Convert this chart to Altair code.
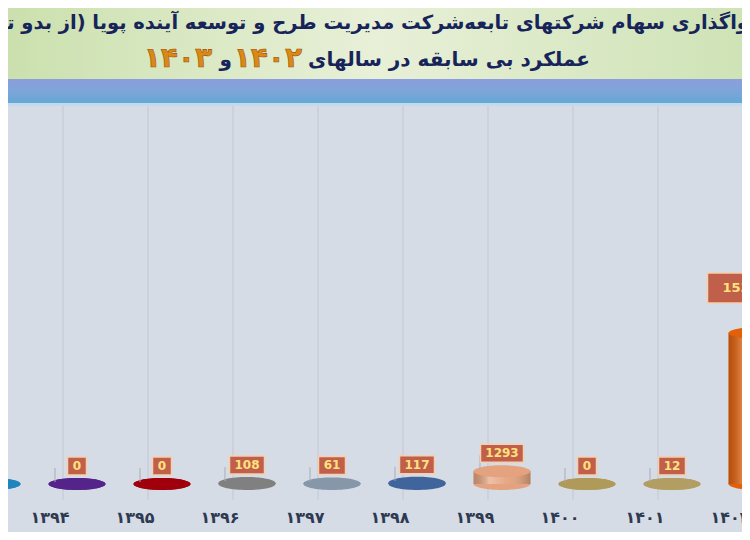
import altair as alt
import pandas as pd

# ---- data ----
years = [1393, 1394, 1395, 1396, 1397, 1398, 1399, 1400, 1401, 1402]
year_labels = ["۱۳۹۳", "۱۳۹۴", "۱۳۹۵", "۱۳۹۶", "۱۳۹۷", "۱۳۹۸", "۱۳۹۹", "۱۴۰۰", "۱۴۰۱", "۱۴۰۲"]
values = [9, 0, 0, 108, 61, 117, 1293, 0, 12, 15350]
top_colors = ["#2a9fd8", "#6b35a8", "#c80a14", "#a0a0a0", "#a3b3c4", "#5679b3",
              "#f3c4a6", "#cbb676", "#cdb87c", "#f07a22"]
side_colors = ["#1f86bd", "#55248a", "#a0000c", "#808080", "#8797aa", "#40649c",
               "#e4a27e", "#b09a5a", "#b29e62", "#e35f08"]

title_line1 = "واگذاری سهام شرکتهای تابعه‌شرکت مدیریت طرح و توسعه آینده پویا (از بدو تاسیس تاکنون)\u200f"
title_line2 = "عملکرد بی سابقه در سالهای"
title_year_a = "۱۴۰۲"
title_and = "و"
title_year_b = "۱۴۰۳"

FONT = "DejaVu Sans"
W, H = 734, 524

df = pd.DataFrame({
    "year": years,
    "cat": [str(y) for y in years],
    "yl": year_labels,
    "value": values,
    "txt": [str(v) for v in values],
})
one = pd.DataFrame({"k": [0]})

cats = [str(y) for y in years]
xs = alt.Scale(domain=[1393, 1402], range=[-21, 754])
ys = alt.Scale(domain=[0, 15350], range=[476, 325])
top_scale = alt.Scale(domain=cats, range=top_colors)
side_scale = alt.Scale(domain=cats, range=side_colors)

ELLIPSE = "M-1,0A1,0.21,0,1,1,1,0A1,0.21,0,1,1,-1,0Z"

base = alt.Chart(df).transform_calculate(base="0")
X = alt.X("year:Q", scale=xs, axis=None)

# ---- background pieces ----
green = alt.Chart(one).mark_rect(
    fill=alt.Gradient(gradient="linear", x1=0, x2=1, y1=0, y2=0,
                      stops=[alt.GradientStop(color="#cbe0ae", offset=0),
                             alt.GradientStop(color="#e8f0d8", offset=0.5),
                             alt.GradientStop(color="#cfe3b6", offset=1)])
).encode(x=alt.value(0), x2=alt.value(W), y=alt.value(0), y2=alt.value(71))

blue = alt.Chart(one).mark_rect(
    fill=alt.Gradient(gradient="linear", x1=0, x2=0, y1=0, y2=1,
                      stops=[alt.GradientStop(color="#8a9fdc", offset=0),
                             alt.GradientStop(color="#7ea5da", offset=0.5),
                             alt.GradientStop(color="#64a8d4", offset=1)])
).encode(x=alt.value(0), x2=alt.value(W), y=alt.value(71), y2=alt.value(95))

light = alt.Chart(one).mark_rect(color="#c3d9ec").encode(
    x=alt.value(0), x2=alt.value(W), y=alt.value(95), y2=alt.value(98))

grid = base.mark_rule(color="#c8ced8", strokeWidth=1.5, xOffset=-14).encode(
    x=X, y=alt.value(98), y2=alt.value(492))

# ---- cylinders ----
bottom_ell = base.mark_point(shape=ELLIPSE, filled=True, size=3249, opacity=1).encode(
    x=X, y=alt.Y("base:Q", scale=ys, axis=None),
    color=alt.Color("cat:N", scale=side_scale, legend=None))

body = base.mark_bar(size=57, opacity=1).encode(
    x=X, y=alt.Y("value:Q", scale=ys, axis=None), y2="base:Q",
    color=alt.Color("cat:N", scale=side_scale, legend=None))

shade = base.mark_bar(
    size=57,
    fill=alt.Gradient(gradient="linear", x1=0, x2=1, y1=0, y2=0,
                      stops=[alt.GradientStop(color="rgba(0,0,0,0.18)", offset=0),
                             alt.GradientStop(color="rgba(255,255,255,0.32)", offset=0.28),
                             alt.GradientStop(color="rgba(255,255,255,0.05)", offset=0.6),
                             alt.GradientStop(color="rgba(0,0,0,0.22)", offset=1)])
).encode(x=X, y=alt.Y("value:Q", scale=ys, axis=None), y2="base:Q")

top_ell = base.mark_point(shape=ELLIPSE, filled=True, size=3249, opacity=1).encode(
    x=X, y=alt.Y("value:Q", scale=ys, axis=None),
    color=alt.Color("cat:N", scale=top_scale, legend=None))

# ---- value labels ----
small = base.transform_filter("datum.value < 5000").transform_calculate(
    hw="(8*length(datum.txt)+11)/60"
).transform_calculate(
    boxpath="'M' + (-datum.hw) + ',-0.3H' + datum.hw + 'V0.3H' + (-datum.hw) + 'Z'")

leader = small.mark_rule(color="#a7adb5", strokeWidth=1, xOffset=-22, yOffset=-16,
                         y2Offset=-2).encode(
    x=X, y=alt.Y("value:Q", scale=ys, axis=None), y2="value:Q")

small_box = small.mark_point(filled=True, size=3600, opacity=1, fill="#c0604a",
                             stroke="#f6cfae", strokeWidth=1.5, yOffset=-18).encode(
    x=X, y=alt.Y("value:Q", scale=ys, axis=None),
    shape=alt.Shape("boxpath:N", scale=None))

small_txt = small.mark_text(font=FONT, fontSize=12, fontWeight="bold", color="#ffe17e",
                            yOffset=-18, baseline="middle").encode(
    x=X, y=alt.Y("value:Q", scale=ys, axis=None), text="txt:N")

big = base.transform_filter("datum.value >= 5000").transform_calculate(
    hw="(9*length(datum.txt)+30)/60"
).transform_calculate(
    boxpath="'M' + (-datum.hw) + ',-0.5H' + datum.hw + 'V0.5H' + (-datum.hw) + 'Z'")

big_box = big.mark_point(filled=True, size=3600, opacity=1, fill="#c0604a",
                         stroke="#f6cfae", strokeWidth=1.5, yOffset=-45, xOffset=-12).encode(
    x=X, y=alt.Y("value:Q", scale=ys, axis=None),
    shape=alt.Shape("boxpath:N", scale=None))

big_txt = big.mark_text(font=FONT, fontSize=13, fontWeight="bold", color="#ffe17e",
                        yOffset=-45, xOffset=-12, baseline="middle").encode(
    x=X, y=alt.Y("value:Q", scale=ys, axis=None), text="txt:N")

# ---- year labels (category axis) ----
year_txt = base.mark_text(font=FONT, fontSize=16, fontWeight="bold", color="#2e3a52",
                          xOffset=-27, baseline="middle").encode(
    x=X, y=alt.value(510), text="yl:N")

# ---- titles ----
NAVY = "#16245a"
GOLD = "#d98a16"
t1 = alt.Chart(one).mark_text(font=FONT, fontSize=19.5, fontWeight="bold", color=NAVY,
                              align="right", baseline="middle").encode(
    x=alt.value(741), y=alt.value(15), text=alt.value(title_line1))
t2 = alt.Chart(one).mark_text(font=FONT, fontSize=20, fontWeight="bold", color=NAVY,
                              align="right", baseline="middle").encode(
    x=alt.value(582), y=alt.value(52), text=alt.value(title_line2))
t3 = alt.Chart(one).mark_text(font=FONT, fontSize=28, fontWeight="bold", color=GOLD,
                              stroke="#a0500a", strokeWidth=0.6,
                              align="right", baseline="middle").encode(
    x=alt.value(294), y=alt.value(51), text=alt.value(title_year_a))
t4 = alt.Chart(one).mark_text(font=FONT, fontSize=20, fontWeight="bold", color=NAVY,
                              align="right", baseline="middle").encode(
    x=alt.value(224), y=alt.value(52), text=alt.value(title_and))
t5 = alt.Chart(one).mark_text(font=FONT, fontSize=28, fontWeight="bold", color=GOLD,
                              stroke="#a0500a", strokeWidth=0.6,
                              align="right", baseline="middle").encode(
    x=alt.value(204), y=alt.value(51), text=alt.value(title_year_b))

chart = alt.layer(
    green, blue, light, grid,
    bottom_ell, body, shade, top_ell,
    leader, small_box, small_txt, big_box, big_txt,
    year_txt, t1, t2, t3, t4, t5,
).properties(
    width=W, height=H, padding=0,
    autosize=alt.AutoSizeParams(type="none"),
    background="#d6dce5",
).configure_view(stroke=None)

chart.save("out.html", embed_options={"renderer": "svg", "actions": False})
